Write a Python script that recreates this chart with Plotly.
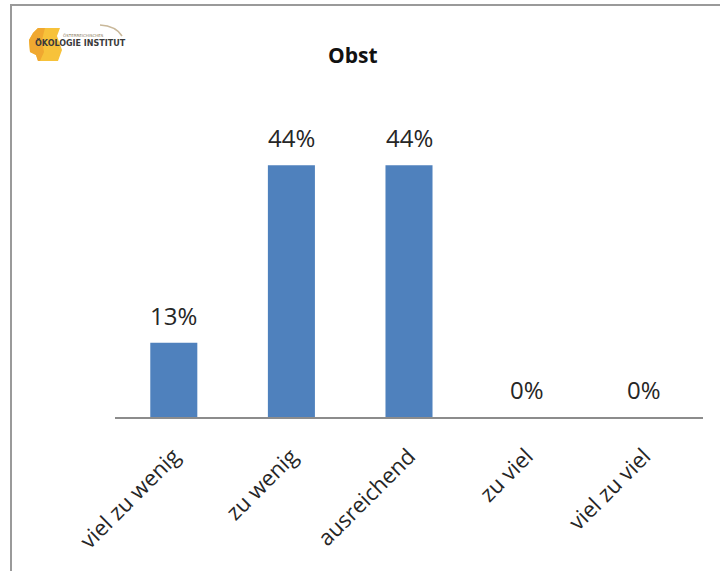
import plotly.graph_objects as go

# Survey result: rating of fruit ("Obst") supply
categories = ["viel zu wenig", "zu wenig", "ausreichend", "zu viel", "viel zu viel"]
shares = [13, 44, 44, 0, 0]
title_text = "Obst"

W, H = 720, 571
ML, MR, MT, MB = 115, 17, 131, 154
PW, PH = W - ML - MR, H - MT - MB

def px(x):
    return (x - ML) / PW

def py(y):
    return (H - MB - y) / PH

FONT = "Open Sans"
TXT = "#262626"
BAR = "#4F81BD"

fig = go.Figure(
    go.Bar(
        x=categories,
        y=shares,
        marker=dict(color=BAR, line=dict(width=0)),
        hoverinfo="skip",
    )
)

# value labels above each bar
annotations = [
    dict(
        x=c, y=v, xref="x", yref="y",
        text=f"{v}%", showarrow=False,
        yanchor="bottom", yshift=9,
        font=dict(family=FONT, size=24, color=TXT),
    )
    for c, v in zip(categories, shares)
]

# chart title
annotations.append(dict(
    x=px(353), y=py(55), xref="paper", yref="paper",
    text=f"<b>{title_text}</b>", showarrow=False,
    xanchor="center", yanchor="middle",
    font=dict(family=FONT, size=21, color="#111"),
))

# institute logo lettering
annotations.append(dict(
    x=px(80), y=py(42.5), xref="paper", yref="paper",
    text="<b>ÖKOLOGIE INSTITUT</b>", showarrow=False,
    xanchor="center", yanchor="middle",
    font=dict(family="DejaVu Sans", size=8, color="#3a3a3a"),
))
annotations.append(dict(
    x=px(83), y=py(35), xref="paper", yref="paper",
    text="ÖSTERREICHISCHES", showarrow=False,
    xanchor="center", yanchor="middle",
    font=dict(family="DejaVu Sans", size=4, color="#8a7a60"),
))

def path(points):
    s = "M " + " L ".join(f"{px(a):.5f},{py(b):.5f}" for a, b in points)
    return s + " Z"

shapes = [
    # frame: top and left edges
    dict(type="line", xref="paper", yref="paper",
         x0=px(10), x1=px(W), y0=py(5), y1=py(5),
         line=dict(color="#9a9a9a", width=2)),
    dict(type="line", xref="paper", yref="paper",
         x0=px(11), x1=px(11), y0=py(4), y1=py(H),
         line=dict(color="#9a9a9a", width=2)),
    # logo emblem
    dict(type="path", xref="paper", yref="paper", layer="below",
         path=path([(38, 28), (60, 28), (57, 36), (62, 50), (58, 61),
                    (38, 61), (36, 55), (30, 52), (29, 40), (33, 33)]),
         fillcolor="#F7C23A", line=dict(width=0)),
    dict(type="path", xref="paper", yref="paper", layer="below",
         path=path([(33, 33), (38, 28), (45, 28), (42, 40), (44, 52),
                    (40, 61), (38, 61), (36, 55), (30, 52), (29, 40)]),
         fillcolor="#F0A830", line=dict(width=0)),
    # arc over the lettering
    dict(type="path", xref="paper", yref="paper",
         path=f"M {px(100):.5f},{py(25):.5f} Q {px(116):.5f},{py(26):.5f} {px(122):.5f},{py(36):.5f}",
         line=dict(color="#c9b89a", width=1.5)),
]

fig.update_layout(
    width=W, height=H,
    margin=dict(l=ML, r=MR, t=MT, b=MB),
    paper_bgcolor="white", plot_bgcolor="white",
    bargap=0.6,
    showlegend=False,
    annotations=annotations,
    shapes=shapes,
    xaxis=dict(
        type="category",
        tickangle=-45,
        tickfont=dict(family=FONT, size=22, color=TXT),
        ticklabelstandoff=16,
        showline=True, linecolor="#8c8c8c", linewidth=1.5,
        ticks="", showgrid=False, zeroline=False,
        fixedrange=True,
    ),
    yaxis=dict(
        range=[0, 50],
        visible=False,
        showgrid=False, zeroline=False,
        fixedrange=True,
    ),
)

fig.write_html("out.html")
